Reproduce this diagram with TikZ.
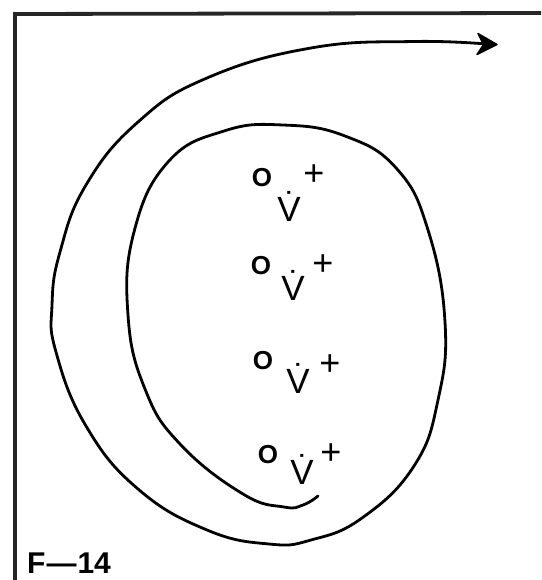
\documentclass[tikz,border=0pt]{standalone}
\usepackage{fontspec}
\setmainfont{Liberation Sans}
\usetikzlibrary{arrows.meta}
\begin{document}
\begin{tikzpicture}[x=1pt,y=-1pt,
  frameline/.style={line width=3.8pt,black!85},
  spiral/.style={line width=2.8pt,line cap=round,line join=round},
  tiphead/.style={fill=black,draw=black,line width=1.4pt,line join=round},
  osym/.style={inner sep=0pt,font=\bfseries\fontsize{26}{28}\selectfont},
  vsym/.style={inner sep=0pt,anchor=base,font=\fontsize{35}{36}\selectfont},
  psym/.style={inner sep=0pt,font=\fontsize{36}{38}\selectfont},
  figlabel/.style={inner sep=0pt,anchor=base west,font=\bfseries\fontsize{30}{32}\selectfont}]
\useasboundingbox (0,0) rectangle (541,580);
% frame
\coordinate (fbl) at (15,580);
\coordinate (ftl) at (15,14);
\coordinate (ftr) at (541,13);
\draw[frameline] (fbl) -- (ftl) -- (ftr);
% spiral
\coordinate (tip) at (497,44.5);
\draw[spiral]
  plot[smooth,tension=0.75] coordinates {
   (318,496) (303,505) (284,507) (243,494) (180,444) (145,389) (128,315)
   (134,232) (168,162) (224,131) (283,125) (345,136) (397,169) (428,230)
   (445,322) (438,400) (414,466) (362,518) (311,540) (269,544) (207,530)
   (138,489) (86,426) (56,352) (52,305) (60,252) (86,185) (138,122)
   (207,78) (311,48) (414,41.5) (490,44.3)};
\fill[tiphead] (tip) -- ++(-19,-11) -- ++(5.5,11) -- ++(-6.5,10) -- cycle;
% symbols group 1
\node[osym] (o1) at (262,178) {O};
\node[vsym] (v1) at (289,221) {\.{V}};
\node[psym] (p1) at (314,175) {+};
% group 2
\node[osym] (o2) at (261,266) {O};
\node[vsym] (v2) at (293,300) {\.{V}};
\node[psym] (p2) at (323,265) {+};
% group 3
\node[osym] (o3) at (263,361) {O};
\node[vsym] (v3) at (298,393) {\.{V}};
\node[psym] (p3) at (330,365) {+};
% group 4
\node[osym] (o4) at (268,455) {O};
\node[vsym] (v4) at (302,484) {\.{V}};
\node[psym] (p4) at (331,454) {+};
% label
\node[figlabel] (lab) at (27,573) {F\kern1pt—\kern1pt14};
\end{tikzpicture}
\end{document}
